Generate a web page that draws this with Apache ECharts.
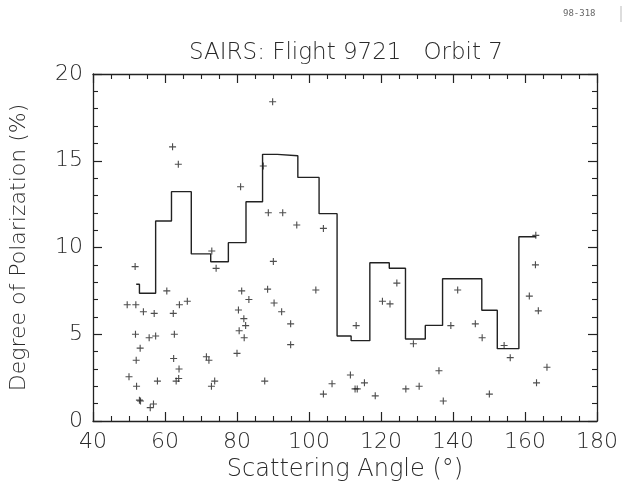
<!DOCTYPE html>
<html>
<head>
<meta charset="utf-8">
<script src="https://cdn.jsdelivr.net/npm/echarts@6/dist/echarts.min.js"></script>
<style>
html,body{margin:0;padding:0;background:#fff;}
#chart{width:631px;height:489px;}
</style>
</head>
<body>
<div id="chart"></div>
<script>
// ---- data ----
const titleText = 'SAIRS: Flight 9721   Orbit 7';
const xName = 'Scattering Angle (\u00b0)';
const yName = 'Degree of Polarization (%)';
const stamp = '98-318';

// histogram (step line): bin edges and bin values
const binEdges = [52.0, 52.9, 57.4, 61.8, 67.3, 72.7, 77.6, 82.5, 87.1, 91.2, 96.9, 102.8, 107.8, 111.7, 116.9, 122.3, 126.8, 132.3, 137.1, 148.0, 152.3, 158.3, 163.1];
const binValues = [7.88, 7.36, 11.53, 13.22, 9.63, 9.18, 10.28, 12.64, 15.37, 15.29, 14.04, 11.95, 4.90, 4.63, 9.12, 8.80, 4.73, 5.51, 8.20, 6.38, 4.17, 10.62];

// individual measurements (+)
const angles = [62.1, 63.7, 81.0, 87.3, 88.7, 73.0, 89.9, 92.7, 96.6, 104.0, 163.0, 74.2, 51.7, 60.5, 81.3, 88.5,
  49.5, 51.9, 64.0, 66.2, 83.3, 54.0, 57.0, 62.3, 80.4, 81.9, 82.4, 80.6, 82.0, 51.8, 55.6, 57.4, 62.6, 53.1,
  52.0, 62.4, 71.5, 72.2, 80.0, 63.9, 50.0, 52.1, 57.9, 63.1, 63.8, 72.9, 73.8, 87.7, 52.9, 53.2, 55.9, 56.8,
  90.1, 90.3, 92.4, 94.9, 94.9, 101.9, 113.1, 120.4, 122.5, 124.4, 129.0, 104.0, 106.4, 111.5, 112.8, 113.4,
  115.4, 118.4, 126.9, 130.6, 136.1, 137.3, 139.4, 141.3, 146.2, 148.1, 154.2, 155.9, 150.1, 162.9, 161.2,
  163.7, 166.1, 163.2];
const polarization = [15.8, 14.8, 13.5, 14.7, 12.0, 9.8, 18.4, 12.0, 11.3, 11.1, 10.7, 8.8, 8.9, 7.5, 7.5, 7.6,
  6.7, 6.7, 6.7, 6.9, 7.0, 6.3, 6.2, 6.2, 6.4, 5.9, 5.5, 5.2, 4.8, 5.0, 4.8, 4.9, 5.0, 4.2,
  3.5, 3.6, 3.7, 3.5, 3.9, 3.0, 2.55, 2.0, 2.3, 2.3, 2.45, 2.0, 2.3, 2.3, 1.2, 1.15, 0.77, 0.98,
  9.2, 6.8, 6.3, 5.6, 4.4, 7.55, 5.5, 6.9, 6.75, 7.95, 4.45, 1.55, 2.15, 2.65, 1.85, 1.85,
  2.2, 1.45, 1.85, 2.0, 2.9, 1.15, 5.5, 7.55, 5.6, 4.8, 4.35, 3.65, 1.55, 9.0, 7.2,
  6.35, 3.1, 2.2];

// ---- build series data ----
const stepData = [];
for (let i = 0; i < binValues.length; i++) {
  stepData.push([binEdges[i], binValues[i]]);
  stepData.push([binEdges[i + 1], binValues[i]]);
}
const pointData = angles.map((a, i) => [a, polarization[i]]);

const ink = '#222';
const textInk = '#2a2a2a';
const font = 'DejaVu Sans';
const weight = 200;
const plus = 'path://M4.2,0 H5.8 V4.2 H10 V5.8 H5.8 V10 H4.2 V5.8 H0 V4.2 H4.2 Z';

const axisCommon = {
  type: 'value',
  axisLine: { show: true, onZero: false, lineStyle: { color: ink, width: 1.3 } },
  axisTick: { show: true, inside: true, length: 9, lineStyle: { color: ink, width: 1.2 } },
  minorTick: { show: true, length: 5, lineStyle: { color: ink, width: 1.1 } },
  splitLine: { show: false }
};

const chart = echarts.init(document.getElementById('chart'), null, { renderer: 'canvas' });
chart.setOption({
  backgroundColor: '#fff',
  animation: false,
  title: {
    text: titleText,
    left: 341, top: 37, textAlign: 'center',
    textStyle: { fontFamily: font, fontSize: 23, fontWeight: weight, color: textInk }
  },
  grid: { left: 93, right: 34, top: 74, bottom: 68, containLabel: false },
  xAxis: [
    Object.assign({}, axisCommon, {
      position: 'bottom', min: 40, max: 180, interval: 20,
      minorTick: Object.assign({}, axisCommon.minorTick, { splitNumber: 4 }),
      axisLabel: { show: true, margin: 10, fontFamily: font, fontSize: 22, fontWeight: weight, color: textInk },
      name: xName, nameLocation: 'middle', nameGap: 37,
      nameTextStyle: { fontFamily: font, fontSize: 24, fontWeight: weight, color: textInk }
    }),
    Object.assign({}, axisCommon, {
      position: 'top', min: 40, max: 180, interval: 20,
      minorTick: Object.assign({}, axisCommon.minorTick, { splitNumber: 4 }),
      axisLabel: { show: false }
    })
  ],
  yAxis: [
    Object.assign({}, axisCommon, {
      position: 'left', min: 0, max: 20, interval: 5,
      minorTick: Object.assign({}, axisCommon.minorTick, { splitNumber: 5 }),
      axisLabel: { show: true, margin: 10, fontFamily: font, fontSize: 22, fontWeight: weight, color: textInk },
      name: yName, nameLocation: 'middle', nameGap: 63, nameRotate: 90,
      nameTextStyle: { fontFamily: font, fontSize: 22, fontWeight: weight, color: textInk }
    }),
    Object.assign({}, axisCommon, {
      position: 'right', min: 0, max: 20, interval: 5,
      minorTick: Object.assign({}, axisCommon.minorTick, { splitNumber: 5 }),
      axisLabel: { show: false }
    })
  ],
  graphic: [
    { type: 'text', left: 563, top: 9, style: { text: stamp, fontFamily: 'DejaVu Sans Mono', fontSize: 9, fill: '#666' } },
    { type: 'line', shape: { x1: 621, y1: 6, x2: 621, y2: 22 }, style: { stroke: '#bbb', lineWidth: 1 } }
  ],
  series: [
    {
      type: 'line', xAxisIndex: 0, yAxisIndex: 0,
      data: stepData, showSymbol: false, symbol: 'none',
      lineStyle: { color: ink, width: 1.4 }, z: 2
    },
    {
      type: 'scatter', xAxisIndex: 0, yAxisIndex: 0,
      data: pointData, symbol: plus, symbolSize: 7,
      itemStyle: { color: ink }, z: 3
    }
  ]
});
</script>
</body>
</html>
